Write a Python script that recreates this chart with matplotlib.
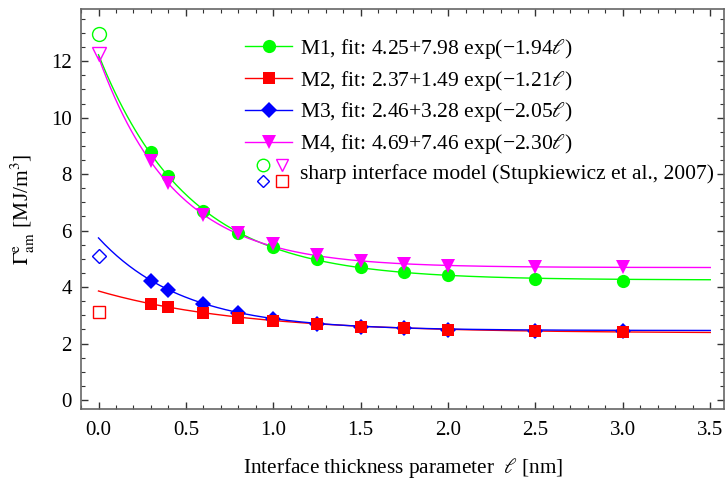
import numpy as np
import matplotlib
matplotlib.use('Agg')
import matplotlib.pyplot as plt
from matplotlib.lines import Line2D
from matplotlib.legend_handler import HandlerBase
from matplotlib.ticker import MultipleLocator, FormatStrFormatter

plt.rcParams['font.family'] = ['Liberation Serif', 'DejaVu Serif']
plt.rcParams['mathtext.fontset'] = 'stix'
plt.rcParams['font.size'] = 15

# interface thickness parameter [nm]
ell = [0.3, 0.4, 0.6, 0.8, 1.0, 1.25, 1.5, 1.75, 2.0, 2.5, 3.0]

# amorphous interface energy for the four materials [MJ/m^3]
m1 = [8.79, 7.94, 6.70, 5.92, 5.42, 4.99, 4.72, 4.54, 4.41, 4.27, 4.22]
m2 = [3.40, 3.30, 3.08, 2.92, 2.79, 2.69, 2.58, 2.55, 2.48, 2.43, 2.42]
m3 = [4.22, 3.88, 3.40, 3.08, 2.87, 2.70, 2.58, 2.55, 2.49, 2.45, 2.45]
m4 = [8.48, 7.68, 6.55, 5.92, 5.52, 5.14, 4.94, 4.81, 4.75, 4.71, 4.70]

# exponential fits a + b exp(-c l)
fit_a = [4.25, 2.37, 2.46, 4.69]
fit_b = [7.98, 1.49, 3.28, 7.46]
fit_c = [1.94, 1.21, 2.05, 2.30]

# sharp interface model values (l = 0)
sharp = [12.97, 3.13, 5.11, 12.27]

colors = ['#00ff00', '#ff0000', '#0000ff', '#ff00ff']
markers = ['o', 's', 'D', 'v']
msizes = [9.5, 8.5, 8.5, 9.5]
names = ['M1', 'M2', 'M3', 'M4']


class HandlerSharp(HandlerBase):
    # 2x2 block of open markers for the sharp interface entry
    def create_artists(self, legend, orig_handle, xdescent, ydescent,
                       width, height, fontsize, trans):
        cy = height / 2 - ydescent
        spots = [(0.375, cy + 5.0, 'o', colors[0], 9.0),
                 (0.79, cy + 5.0, 'v', colors[3], 9.0),
                 (0.375, cy - 7.0, 'D', colors[2], 6.5),
                 (0.79, cy - 7.0, 's', colors[1], 8.0)]
        arts = []
        for fx, yy, m, c, s in spots:
            ln = Line2D([fx * width - xdescent], [yy], linestyle='none', marker=m,
                        markersize=s, markerfacecolor='none', markeredgecolor=c,
                        markeredgewidth=1.0, transform=trans)
            arts.append(ln)
        return arts


fig = plt.figure(figsize=(7.26, 4.83), dpi=100)
ax = fig.add_axes([0.1116, 0.1532, 0.886, 0.8282])

xx = np.linspace(0, 3.5, 300)
series = [m1, m2, m3, m4]
handles = []
labels = []
for i in range(4):
    ax.plot(xx, fit_a[i] + fit_b[i] * np.exp(-fit_c[i] * xx), color=colors[i], lw=1.0, zorder=2)
for i in [2, 1, 0, 3]:
    ax.plot(ell, series[i], linestyle='none', marker=markers[i], markersize=msizes[i],
            color=colors[i], markeredgewidth=0, zorder=3)
for i in range(4):
    ax.plot([0.0], [sharp[i]], linestyle='none', marker=markers[i],
            markersize={'o': 10, 's': 9, 'D': 7, 'v': 10}[markers[i]],
            markerfacecolor='none', markeredgecolor=colors[i], markeredgewidth=1.0, zorder=3)
    handles.append(Line2D([], [], color=colors[i], lw=1.0, marker=markers[i],
                          markersize=msizes[i], markeredgewidth=0))
    labels.append('%s, fit: %.2f+%.2f exp(\u2212%.2f$\\ell$)' % (names[i], fit_a[i], fit_b[i], fit_c[i]))

sharp_handle = object()
handles.append(sharp_handle)
labels.append('sharp interface model (Stupkiewicz et al., 2007)')

ax.legend(handles, labels, handler_map={sharp_handle: HandlerSharp()},
          loc='upper left', bbox_to_anchor=(0.2547, 0.93), frameon=False,
          borderpad=0, borderaxespad=0, handlelength=2.2, handletextpad=0.37,
          labelspacing=0.36, fontsize=15.5)

ax.set_xlim(-0.1, 3.58)
ax.set_ylim(-0.32, 13.85)
ax.xaxis.set_major_locator(MultipleLocator(0.5))
ax.xaxis.set_minor_locator(MultipleLocator(0.1))
ax.xaxis.set_major_formatter(FormatStrFormatter('%.1f'))
ax.yaxis.set_major_locator(MultipleLocator(2))
ax.yaxis.set_minor_locator(MultipleLocator(0.5))
ax.tick_params(which='both', direction='in', top=True, right=True, labelsize=15,
               colors='#333333', labelcolor='black')
ax.tick_params(axis='x', which='major', pad=8.5)
ax.tick_params(axis='y', which='major', pad=6.5)
ax.tick_params(which='major', length=5, width=1)
ax.tick_params(which='minor', length=3, width=0.8)
for sp in ax.spines.values():
    sp.set_color('#666666')
    sp.set_linewidth(1.2)

ax.set_xlabel('Interface thickness parameter  $\\ell$ [nm]', fontsize=15.3, labelpad=12)
ax.set_ylabel('$\\Gamma^{\\rm e}_{\\rm am}$ [MJ/m$^3$]', fontsize=15.5, labelpad=10)

fig.savefig('out.png', dpi=100)
